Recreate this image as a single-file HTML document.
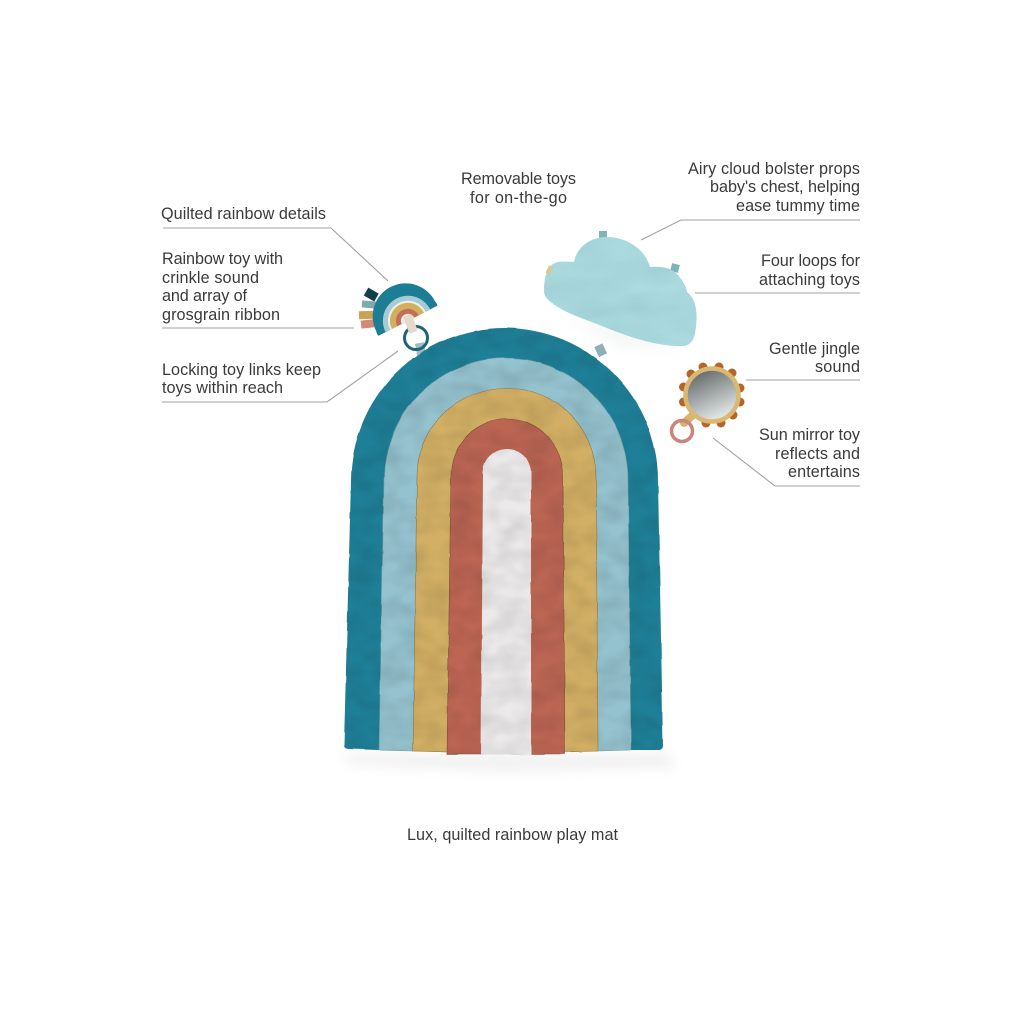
<!DOCTYPE html>
<html><head><meta charset="utf-8"><style>
html,body{margin:0;padding:0;background:#fff}
svg{display:block}
text{font-family:"Liberation Sans",sans-serif;font-size:16.2px;fill:#3a3a3a}
</style></head><body>
<svg xmlns="http://www.w3.org/2000/svg" width="1024" height="1024" viewBox="0 0 1024 1024">
<defs>
<filter id="fab" x="-5%" y="-5%" width="110%" height="110%" color-interpolation-filters="sRGB">
<feTurbulence type="fractalNoise" baseFrequency="0.04" numOctaves="2" seed="4" result="w"/>
<feDisplacementMap in="SourceGraphic" in2="w" scale="2" xChannelSelector="R" yChannelSelector="G" result="d"/>
<feTurbulence type="fractalNoise" baseFrequency="0.04 0.06" numOctaves="2" seed="9"/>
<feColorMatrix type="matrix" values="0 0 0 0 0.65  0 0 0 0 0.65  0 0 0 0 0.65  0.5 0 0 0 -0.15"/>
<feComposite in2="d" operator="in" result="n"/>
<feBlend in="n" in2="d" mode="multiply"/>
</filter>
<filter id="b8" x="-20%" y="-50%" width="140%" height="200%"><feGaussianBlur stdDeviation="6"/></filter>
<filter id="cl" x="-5%" y="-5%" width="110%" height="110%" color-interpolation-filters="sRGB">
<feTurbulence type="fractalNoise" baseFrequency="0.02 0.05" numOctaves="2" seed="2"/>
<feColorMatrix type="matrix" values="0 0 0 0 0.8  0 0 0 0 0.85  0 0 0 0 0.86  0.6 0 0 0 -0.15"/>
<feComposite in2="SourceGraphic" operator="in" result="n"/>
<feBlend in="n" in2="SourceGraphic" mode="multiply"/>
</filter>
<linearGradient id="mir" x1="0.25" y1="0" x2="0.7" y2="1">
<stop offset="0" stop-color="#5f6463"/><stop offset="0.5" stop-color="#a4abaa"/><stop offset="1" stop-color="#eef1f1"/>
</linearGradient>
</defs>
<rect width="1024" height="1024" fill="#fff"/>

<!-- shadows -->
<path d="M342 754H670L674 768L500 772L348 764Z" fill="#dcdcdc" opacity=".4" filter="url(#b8)"/>
<path d="M560 315L690 350L620 345Z" fill="#dce0e0" opacity=".35" filter="url(#b8)"/>

<!-- mat tabs -->
<rect x="416" y="343" width="9" height="12" fill="#a3bcc0" transform="rotate(-10 420 349)"/>
<rect x="596" y="345" width="9" height="11" fill="#8fb1b6" transform="rotate(-25 600 350)"/>

<!-- mat -->
<g filter="url(#fab)">
<path d="M344 745L351 481A153.500 153 0 0 1 658 481L663 745Q663 750 658 750L631 750L565 752L447 752L379 750L349 749Q344 749 344 745Z" fill="#1e8098"/>
<path d="M379 750L384 480A122 122 0 0 1 628 480L631 750L598 751L413 751Z" fill="#94c2ce" stroke="#6f9ca8" stroke-width=".6"/>
<path d="M413 751L417 477A89.500 89 0 0 1 596 477L598 751L565 752H447Z" fill="#d2af64" stroke="#8f7a45" stroke-width=".6"/>
<path d="M447 754L451 475A56 56 0 0 1 563 475L565 754Z" fill="#bc6553" stroke="#80503e" stroke-width=".6"/>
<path d="M481 755L483 473A24 24 0 0 1 531 473L531 755Z" fill="#ebe9ea"/>
</g>

<!-- cloud -->
<rect x="599" y="231" width="8" height="9" fill="#7fb5b8"/>
<rect x="671" y="264" width="8" height="8" fill="#7fb5b8" transform="rotate(15 675 268)"/>
<path filter="url(#cl)" d="M544 291C544 275 548 264 558 262C565 261 571 262 574 262C577 247 590 237 607 237C625 237 645 248 650 267C662 266 672 268 678 275C685 283 687 290 687 292C695 298 698 310 696 326C695 338 692 346 682 346C660 347 630 338 597 324C578 317 562 311 552 303C547 299 544 296 544 291Z" fill="#acdbe0"/>
<rect x="547" y="266" width="5" height="8" fill="#d8c79a" transform="rotate(25 549 270)"/>

<!-- rainbow toy -->
<rect x="365" y="290" width="12" height="9" fill="#123f4c" transform="rotate(30 371 295)"/>
<rect x="362" y="301" width="14" height="7" fill="#7fa9af" transform="rotate(5 369 304)"/>
<rect x="359" y="311" width="14" height="8" fill="#c9a352" transform="rotate(-2 366 315)"/>
<rect x="361" y="320" width="13" height="8" fill="#cf8a78" transform="rotate(-6 367 324)"/>
<g transform="translate(407 319) rotate(-27)">
<path d="M-33 2Q-34 0 -33 -3A33 33 0 0 1 33 -3Q34 0 33 2Z" fill="#1d7d94"/>
<path d="M-25 2A25 25 0 0 1 25 2Z" fill="#a6ccd3"/>
<path d="M-20 2A20 20 0 0 1 20 2Z" fill="#f0efe9"/>
<path d="M-18 2A18 18 0 0 1 18 2Z" fill="#d2ae5e"/>
<path d="M-12 2A12 12 0 0 1 12 2Z" fill="#c36f57"/>
<path d="M-7 2A7 7 0 0 1 7 2Z" fill="#f0ebe4"/>
</g>
<circle cx="416" cy="338" r="11.500" fill="none" stroke="#1d6476" stroke-width="3"/>
<rect x="406" y="315" width="9" height="18" rx="2" fill="#e3d9cc" transform="rotate(-20 410 324)"/>

<!-- sun mirror -->
<g fill="#b5652a">
<circle cx="703" cy="367" r="4.500"/><circle cx="719" cy="367" r="4.500"/><circle cx="732" cy="373" r="4.500"/>
<circle cx="740" cy="388" r="4.500"/><circle cx="740" cy="402" r="4.500"/><circle cx="733" cy="415" r="4.500"/>
<circle cx="721" cy="423" r="4.500"/><circle cx="706" cy="423" r="4.500"/><circle cx="683.500" cy="387" r="4.500"/>
<circle cx="683.500" cy="402" r="4.500"/><circle cx="691" cy="374" r="4.500"/>
</g>
<path d="M694 414L684 423" stroke="#d7b46f" stroke-width="8" stroke-linecap="round"/>
<circle cx="712" cy="395" r="26.500" fill="url(#mir)" stroke="#d9b873" stroke-width="4.500"/>
<circle cx="682" cy="431" r="10.500" fill="none" stroke="#c9857b" stroke-width="3.500"/>

<!-- connector lines -->
<g fill="none" stroke="#a0a0a0" stroke-width="1.100">
<path d="M163 228H331L388 281"/>
<path d="M162 328H354"/>
<path d="M162 402H327L398 351"/>
<path d="M860 220H681L641 240"/>
<path d="M860 293H695"/>
<path d="M860 380H746"/>
<path d="M860 486H775L713 438"/>
</g>

<!-- labels -->
<text x="161" y="219" textLength="165" lengthAdjust="spacing">Quilted rainbow details</text>
<text x="162" y="264" textLength="121" lengthAdjust="spacing">Rainbow toy with</text>
<text x="162" y="283" textLength="97" lengthAdjust="spacing">crinkle sound</text>
<text x="162" y="301" textLength="85" lengthAdjust="spacing">and array of</text>
<text x="162" y="320" textLength="118" lengthAdjust="spacing">grosgrain ribbon</text>
<text x="162" y="375" textLength="159" lengthAdjust="spacing">Locking toy links keep</text>
<text x="162" y="393" textLength="121" lengthAdjust="spacing">toys within reach</text>
<text x="461" y="184" textLength="115" lengthAdjust="spacing">Removable toys</text>
<text x="470" y="203" textLength="97" lengthAdjust="spacing">for on-the-go</text>
<text x="688" y="174" textLength="172" lengthAdjust="spacing">Airy cloud bolster props</text>
<text x="710" y="192" textLength="150" lengthAdjust="spacing">baby's chest, helping</text>
<text x="736" y="211" textLength="124" lengthAdjust="spacing">ease tummy time</text>
<text x="761" y="266" textLength="99" lengthAdjust="spacing">Four loops for</text>
<text x="759" y="285" textLength="101" lengthAdjust="spacing">attaching toys</text>
<text x="769" y="354" textLength="91" lengthAdjust="spacing">Gentle jingle</text>
<text x="815" y="372" textLength="45" lengthAdjust="spacing">sound</text>
<text x="759" y="440" textLength="101" lengthAdjust="spacing">Sun mirror toy</text>
<text x="775" y="459" textLength="85" lengthAdjust="spacing">reflects and</text>
<text x="788" y="477" textLength="72" lengthAdjust="spacing">entertains</text>
<text x="407" y="840" textLength="211" lengthAdjust="spacing">Lux, quilted rainbow play mat</text>
</svg>
</body></html>
